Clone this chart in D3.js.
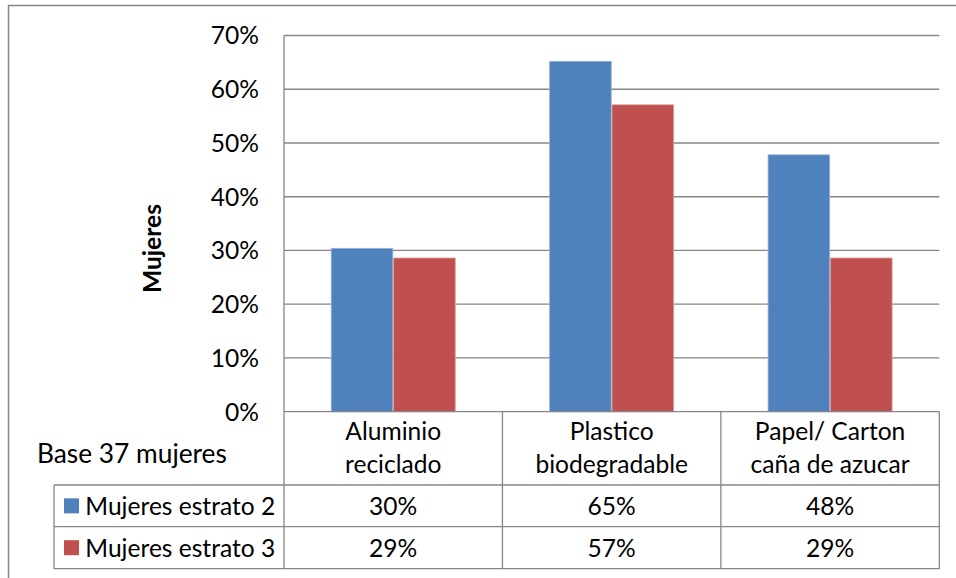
<!DOCTYPE html>
<html lang="es">
<head>
  <meta charset="UTF-8" />
  <title>Mujeres por estrato</title>
  <script src="https://d3js.org/d3.v7.min.js"></script>
  <style>
    body { margin: 0; overflow: hidden; background: #fff; }
    svg { display: block; font-family: Lato, "Open Sans", sans-serif; }
    .grid line { stroke: #868686; stroke-width: 1.3px; }
    .frame { fill: none; stroke: #868686; stroke-width: 1.5px; }
    .tbl line { stroke: #868686; stroke-width: 1.3px; }
  </style>
</head>
<body>
  <svg width="956" height="578"></svg>
  <script>
    // datos
    const categories = [["Aluminio", "reciclado"], ["Plastico", "biodegradable"], ["Papel/ Carton", "caña de azucar"]];
    const seriesNames = ["Mujeres estrato 2", "Mujeres estrato 3"];
    const estrato2 = [0.304, 0.652, 0.478];
    const estrato3 = [0.286, 0.571, 0.286];
    const tickValues = [0, 0.1, 0.2, 0.3, 0.4, 0.5, 0.6, 0.7];
    const colors = ["#4F81BD", "#C0504D"];
    const edgeColors = ["#9BB4D9", "#DB9A98"];
    const baseLabel = "Base 37 mujeres";
    const axisTitle = "Mujeres";

    const series = [estrato2, estrato3];
    const svg = d3.select("svg");
    const fmt = d3.format(".0%");

    // tamaño de letra ajustado al ancho del original (Calibri)
    function fitSize(txt, target, weight) {
      const t = svg.append("text").attr("font-size", 100).attr("font-weight", weight || "normal").text(txt);
      const w = t.node().getComputedTextLength();
      t.remove();
      return 100 * target / w;
    }
    const fs = fitSize("Mujeres estrato 2", 190);
    const fsBase = fitSize(baseLabel, 190);
    const fsBold = fitSize(axisTitle, 89, "bold");

    const plotLeft = 284, plotRight = 939.3, plotTop = 35.5, zeroY = 411.7;
    const rowH = [485, 526.7, 568.7];
    const tableLeft = 54;

    const catKeys = categories.map(d => d.join(" "));
    const x = d3.scaleBand().domain(catKeys).range([plotLeft, plotRight]).padding(0);
    const xSub = d3.scaleBand().domain(seriesNames).range([0, x.bandwidth()])
      .paddingInner(0).paddingOuter(0.75);
    const y = d3.scaleLinear().domain([0, 0.7]).range([zeroY, plotTop]);

    // marco exterior
    svg.append("rect").attr("class", "frame")
      .attr("x", 8.5).attr("y", 5.5).attr("width", 1000).attr("height", 1000);

    // rejilla
    svg.append("g").attr("class", "grid")
      .selectAll("line").data(tickValues.slice(1)).join("line")
      .attr("x1", plotLeft).attr("x2", plotRight)
      .attr("y1", d => y(d)).attr("y2", d => y(d));

    // etiquetas eje y
    svg.append("g").selectAll("text").data(tickValues).join("text")
      .attr("x", 259).attr("y", d => y(d)).attr("dy", "0.36em")
      .attr("text-anchor", "end").attr("font-size", fs).attr("fill", "#000")
      .text(fmt);

    // título eje
    svg.append("text")
      .attr("transform", `translate(161,248.5) rotate(-90)`)
      .attr("text-anchor", "middle").attr("font-size", fsBold).attr("font-weight", "bold")
      .text(axisTitle);

    // barras
    const groups = svg.append("g").selectAll("g").data(catKeys).join("g")
      .attr("transform", d => `translate(${x(d)},0)`);
    groups.selectAll("rect")
      .data((d, i) => series.map((s, j) => ({ name: seriesNames[j], v: s[i], j })))
      .join("rect")
      .attr("x", d => xSub(d.name) + 0.4)
      .attr("width", xSub.bandwidth() - 0.8)
      .attr("y", d => y(d.v))
      .attr("height", d => zeroY - y(d.v))
      .attr("fill", d => colors[d.j])
      .attr("stroke", d => edgeColors[d.j])
      .attr("stroke-width", 0.8);

    // tabla de datos
    const tbl = svg.append("g").attr("class", "tbl");
    tbl.append("line").attr("x1", plotLeft).attr("x2", plotRight).attr("y1", zeroY).attr("y2", zeroY);
    rowH.forEach(r => tbl.append("line").attr("x1", tableLeft).attr("x2", plotRight).attr("y1", r).attr("y2", r));
    tbl.append("line").attr("x1", plotLeft).attr("x2", plotLeft).attr("y1", plotTop).attr("y2", rowH[2]);
    tbl.append("line").attr("x1", tableLeft).attr("x2", tableLeft).attr("y1", rowH[0]).attr("y2", rowH[2]);
    catKeys.forEach(c => {
      const xe = x(c) + x.bandwidth();
      tbl.append("line").attr("x1", xe).attr("x2", xe).attr("y1", zeroY).attr("y2", rowH[2]);
    });

    // etiquetas de categoría
    categories.forEach((lines, i) => {
      const cx = x(catKeys[i]) + x.bandwidth() / 2;
      lines.forEach((ln, k) => {
        svg.append("text").attr("x", cx).attr("y", 440 + k * 32.7)
          .attr("text-anchor", "middle").attr("font-size", fs).text(ln);
      });
    });

    svg.append("text").attr("x", 37).attr("y", 463).attr("font-size", fsBase).text(baseLabel);

    // filas de la tabla
    seriesNames.forEach((name, j) => {
      const cy = (rowH[j] + rowH[j + 1]) / 2;
      svg.append("rect").attr("x", 64).attr("y", cy - 7.5).attr("width", 15).attr("height", 15)
        .attr("fill", colors[j]);
      svg.append("text").attr("x", 85.3).attr("y", cy).attr("dy", "0.36em")
        .attr("font-size", fs).text(name);
      series[j].forEach((v, i) => {
        svg.append("text").attr("x", x(catKeys[i]) + x.bandwidth() / 2).attr("y", cy)
          .attr("dy", "0.36em").attr("text-anchor", "middle").attr("font-size", fs).text(fmt(v));
      });
    });
  </script>
</body>
</html>
